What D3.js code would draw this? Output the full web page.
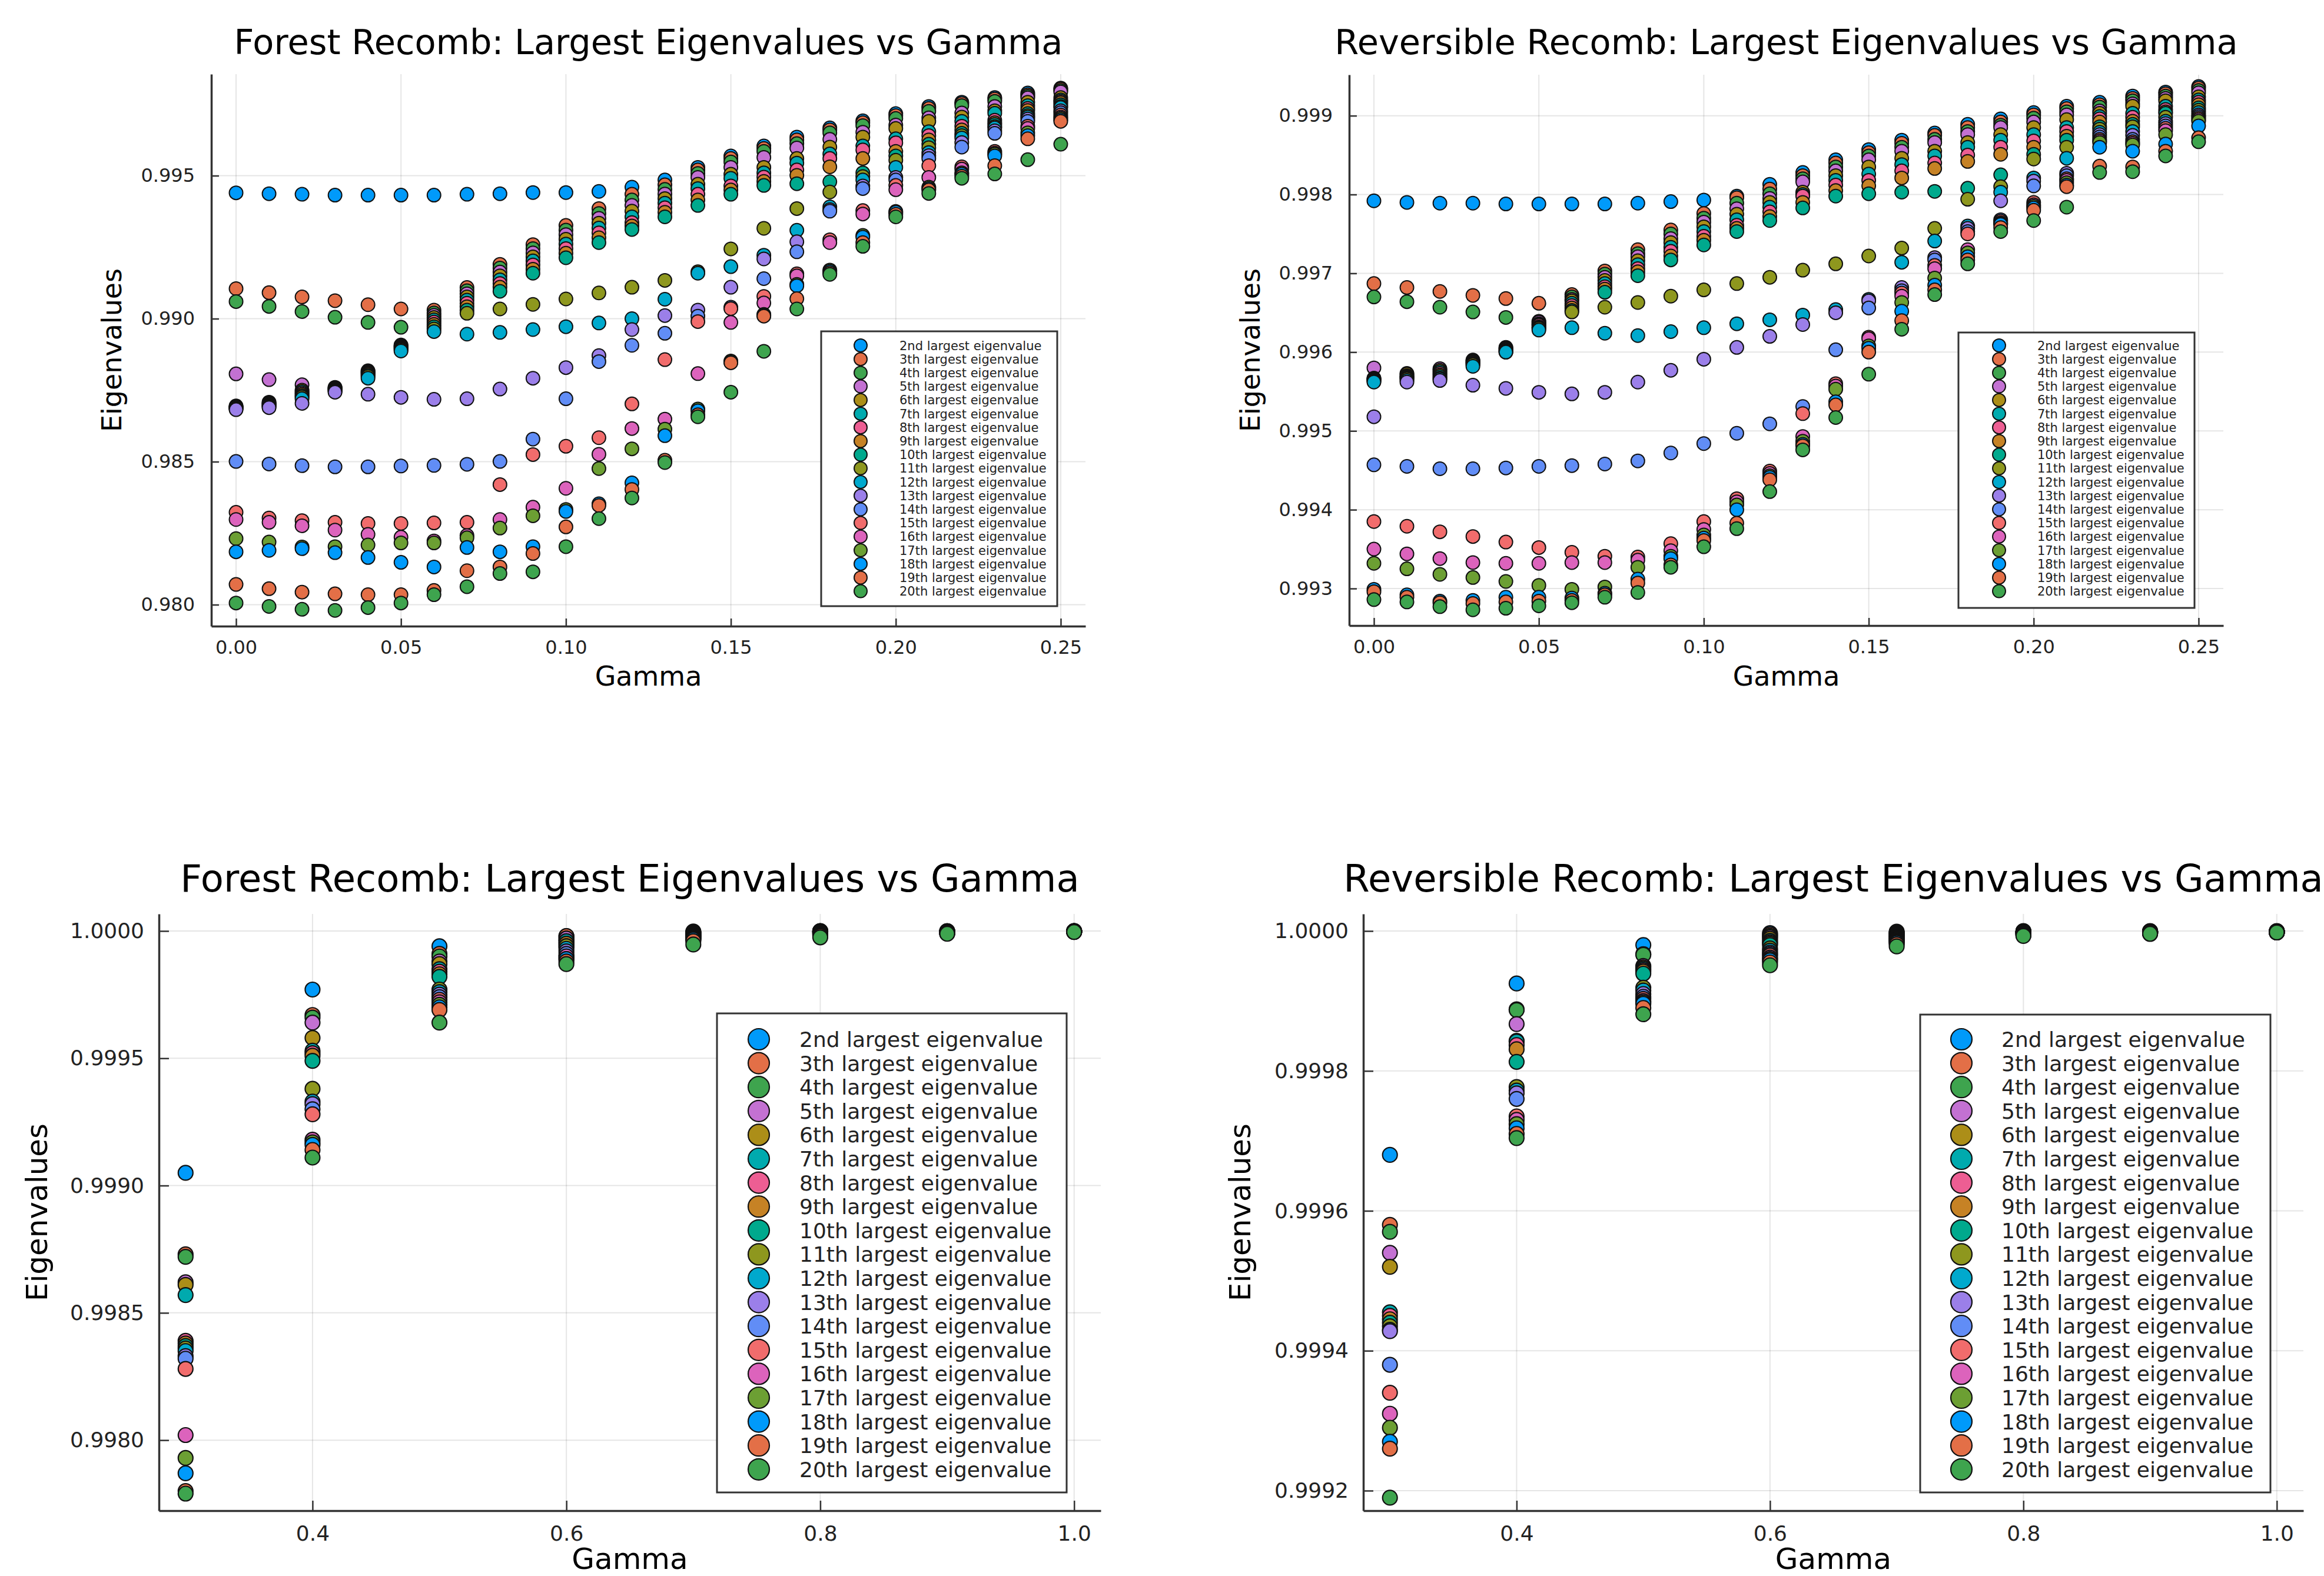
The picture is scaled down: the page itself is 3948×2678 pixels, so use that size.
<!DOCTYPE html>
<html>
<head>
<meta charset="utf-8">
<script src="https://cdn.jsdelivr.net/npm/d3@7"></script>
<style>
  body { margin: 0; background: #fff; }
  svg { display: block; }
  text { font-family: "DejaVu Sans", sans-serif; }
</style>
</head>
<body>
<svg id="chart" width="3948" height="2678"></svg>
<script>
// ---- data ----
var gammaTop = [0.00, 0.01, 0.02, 0.03, 0.04, 0.05, 0.06, 0.07, 0.08, 0.09, 0.10, 0.11, 0.12,
                0.13, 0.14, 0.15, 0.16, 0.17, 0.18, 0.19, 0.20, 0.21, 0.22, 0.23, 0.24, 0.25];
var gammaBottom = [0.3, 0.4, 0.5, 0.6, 0.7, 0.8, 0.9, 1.0];

var seriesNames = [
  "2nd largest eigenvalue", "3th largest eigenvalue", "4th largest eigenvalue",
  "5th largest eigenvalue", "6th largest eigenvalue", "7th largest eigenvalue",
  "8th largest eigenvalue", "9th largest eigenvalue", "10th largest eigenvalue",
  "11th largest eigenvalue", "12th largest eigenvalue", "13th largest eigenvalue",
  "14th largest eigenvalue", "15th largest eigenvalue", "16th largest eigenvalue",
  "17th largest eigenvalue", "18th largest eigenvalue", "19th largest eigenvalue",
  "20th largest eigenvalue"
];

var palette = ["#009AFA", "#E36F47", "#3EA44E", "#C371D2", "#AC8E18", "#00AAAE", "#ED5E93", "#C68225",
               "#00A98D", "#8E971E", "#00A9CD", "#9B7FE9", "#618DF6", "#F16C6C", "#DC63BC", "#6C9F33"];

// one row per gamma, columns are the 2nd ... 20th eigenvalue
var forestTop = [
  [0.99440,0.99105,0.99060,0.98807,0.98695,0.98693,0.98691,0.98690,0.98688,0.98687,0.98685,0.98682,0.98501,0.98323,0.98298,0.98231,0.98185,0.98071,0.98006],
  [0.99437,0.99091,0.99043,0.98787,0.98708,0.98705,0.98702,0.98700,0.98697,0.98695,0.98692,0.98689,0.98492,0.98303,0.98288,0.98219,0.98190,0.98056,0.97994],
  [0.99435,0.99076,0.99025,0.98769,0.98750,0.98745,0.98740,0.98735,0.98730,0.98726,0.98720,0.98704,0.98486,0.98294,0.98276,0.98202,0.98196,0.98044,0.97984],
  [0.99432,0.99063,0.99005,0.98760,0.98758,0.98756,0.98754,0.98752,0.98750,0.98748,0.98746,0.98743,0.98482,0.98288,0.98261,0.98203,0.98182,0.98038,0.97980],
  [0.99432,0.99049,0.98987,0.98818,0.98815,0.98812,0.98809,0.98806,0.98802,0.98798,0.98792,0.98736,0.98482,0.98284,0.98246,0.98209,0.98165,0.98035,0.97990],
  [0.99432,0.99034,0.98970,0.98908,0.98905,0.98902,0.98900,0.98897,0.98894,0.98891,0.98887,0.98725,0.98485,0.98284,0.98236,0.98216,0.98148,0.98035,0.98006],
  [0.99432,0.99030,0.99020,0.99012,0.99004,0.98996,0.98988,0.98980,0.98972,0.98964,0.98955,0.98718,0.98487,0.98286,0.98223,0.98216,0.98132,0.98050,0.98035],
  [0.99435,0.99109,0.99098,0.99087,0.99076,0.99065,0.99054,0.99042,0.99030,0.99019,0.98946,0.98720,0.98491,0.98288,0.98242,0.98234,0.98200,0.98119,0.98063],
  [0.99437,0.99190,0.99177,0.99163,0.99150,0.99136,0.99123,0.99110,0.99096,0.99034,0.98952,0.98754,0.98501,0.98420,0.98298,0.98268,0.98185,0.98132,0.98109],
  [0.99441,0.99259,0.99245,0.99230,0.99216,0.99202,0.99188,0.99173,0.99159,0.99050,0.98962,0.98792,0.98579,0.98525,0.98341,0.98311,0.98203,0.98179,0.98115],
  [0.99441,0.99326,0.99310,0.99294,0.99278,0.99261,0.99245,0.99229,0.99213,0.99069,0.98972,0.98829,0.98720,0.98554,0.98407,0.98333,0.98326,0.98272,0.98203],
  [0.99445,0.99385,0.99368,0.99351,0.99334,0.99317,0.99300,0.99283,0.99266,0.99090,0.98985,0.98871,0.98850,0.98584,0.98526,0.98476,0.98353,0.98347,0.98301],
  [0.99460,0.99435,0.99415,0.99396,0.99376,0.99356,0.99336,0.99324,0.99312,0.99110,0.99000,0.98962,0.98907,0.98702,0.98616,0.98545,0.98426,0.98403,0.98373],
  [0.99485,0.99468,0.99452,0.99436,0.99420,0.99404,0.99388,0.99372,0.99356,0.99134,0.99068,0.99011,0.98949,0.98857,0.98649,0.98614,0.98591,0.98505,0.98497],
  [0.99529,0.99520,0.99508,0.99494,0.99470,0.99455,0.99435,0.99415,0.99396,0.99164,0.99159,0.99030,0.99009,0.98990,0.98808,0.98684,0.98678,0.98664,0.98657],
  [0.99569,0.99560,0.99548,0.99529,0.99505,0.99491,0.99464,0.99450,0.99435,0.99244,0.99182,0.99110,0.99040,0.99035,0.98987,0.98852,0.98848,0.98846,0.98743],
  [0.99604,0.99595,0.99585,0.99564,0.99529,0.99510,0.99495,0.99480,0.99466,0.99316,0.99222,0.99209,0.99140,0.99078,0.99055,0.99015,0.99012,0.99009,0.98886],
  [0.99635,0.99625,0.99612,0.99597,0.99560,0.99544,0.99520,0.99501,0.99472,0.99385,0.99309,0.99269,0.99234,0.99157,0.99150,0.99120,0.99115,0.99070,0.99034],
  [0.99667,0.99660,0.99650,0.99627,0.99600,0.99576,0.99560,0.99531,0.99479,0.99443,0.99391,0.99381,0.99376,0.99276,0.99266,0.99170,0.99165,0.99160,0.99155],
  [0.99692,0.99685,0.99675,0.99652,0.99635,0.99604,0.99590,0.99560,0.99510,0.99497,0.99485,0.99464,0.99455,0.99378,0.99366,0.99291,0.99285,0.99266,0.99253],
  [0.99717,0.99710,0.99700,0.99677,0.99665,0.99629,0.99615,0.99585,0.99569,0.99554,0.99529,0.99494,0.99485,0.99466,0.99451,0.99375,0.99372,0.99365,0.99356],
  [0.99742,0.99735,0.99725,0.99702,0.99690,0.99654,0.99640,0.99625,0.99610,0.99598,0.99581,0.99570,0.99560,0.99535,0.99494,0.99460,0.99455,0.99450,0.99438],
  [0.99757,0.99752,0.99745,0.99719,0.99705,0.99690,0.99673,0.99660,0.99648,0.99640,0.99632,0.99616,0.99600,0.99531,0.99523,0.99510,0.99505,0.99498,0.99491],
  [0.99773,0.99768,0.99760,0.99742,0.99727,0.99718,0.99694,0.99685,0.99679,0.99672,0.99667,0.99657,0.99648,0.99585,0.99579,0.99575,0.99569,0.99535,0.99506],
  [0.99789,0.99783,0.99778,0.99772,0.99757,0.99745,0.99735,0.99728,0.99717,0.99710,0.99705,0.99698,0.99690,0.99673,0.99665,0.99650,0.99640,0.99629,0.99556],
  [0.99806,0.99803,0.99798,0.99793,0.99773,0.99765,0.99760,0.99755,0.99748,0.99742,0.99738,0.99727,0.99720,0.99712,0.99705,0.99700,0.99695,0.99690,0.99610]
];

var reversibleTop = [
  [0.99792,0.99687,0.99670,0.99580,0.99567,0.99566,0.99566,0.99565,0.99564,0.99563,0.99562,0.99518,0.99457,0.99385,0.99350,0.99332,0.99299,0.99296,0.99286],
  [0.99790,0.99682,0.99664,0.99573,0.99572,0.99570,0.99569,0.99568,0.99567,0.99566,0.99564,0.99562,0.99455,0.99379,0.99344,0.99325,0.99292,0.99289,0.99283],
  [0.99789,0.99677,0.99657,0.99579,0.99577,0.99575,0.99573,0.99571,0.99569,0.99567,0.99566,0.99564,0.99452,0.99372,0.99338,0.99318,0.99284,0.99282,0.99277],
  [0.99789,0.99672,0.99651,0.99590,0.99589,0.99588,0.99587,0.99586,0.99585,0.99584,0.99582,0.99558,0.99452,0.99366,0.99333,0.99314,0.99285,0.99281,0.99273],
  [0.99788,0.99668,0.99644,0.99606,0.99605,0.99604,0.99603,0.99602,0.99601,0.99600,0.99600,0.99554,0.99453,0.99359,0.99332,0.99309,0.99289,0.99283,0.99275],
  [0.99788,0.99662,0.99639,0.99638,0.99636,0.99635,0.99634,0.99632,0.99631,0.99630,0.99628,0.99549,0.99455,0.99352,0.99332,0.99304,0.99289,0.99284,0.99278],
  [0.99788,0.99673,0.99670,0.99667,0.99665,0.99662,0.99659,0.99656,0.99653,0.99651,0.99631,0.99547,0.99456,0.99346,0.99333,0.99299,0.99288,0.99285,0.99282],
  [0.99788,0.99703,0.99699,0.99695,0.99691,0.99687,0.99683,0.99680,0.99676,0.99657,0.99624,0.99549,0.99458,0.99341,0.99333,0.99302,0.99294,0.99292,0.99289],
  [0.99789,0.99730,0.99725,0.99721,0.99716,0.99711,0.99706,0.99702,0.99697,0.99663,0.99621,0.99562,0.99462,0.99340,0.99336,0.99327,0.99312,0.99307,0.99295],
  [0.99791,0.99755,0.99750,0.99744,0.99739,0.99733,0.99728,0.99722,0.99717,0.99671,0.99626,0.99577,0.99472,0.99357,0.99348,0.99341,0.99338,0.99330,0.99327],
  [0.99793,0.99776,0.99770,0.99765,0.99759,0.99753,0.99747,0.99742,0.99736,0.99679,0.99631,0.99591,0.99484,0.99385,0.99375,0.99368,0.99364,0.99361,0.99353],
  [0.99798,0.99796,0.99789,0.99782,0.99775,0.99768,0.99761,0.99757,0.99753,0.99687,0.99636,0.99606,0.99497,0.99414,0.99410,0.99406,0.99400,0.99383,0.99376],
  [0.99813,0.99807,0.99801,0.99795,0.99790,0.99784,0.99778,0.99772,0.99767,0.99695,0.99641,0.99620,0.99509,0.99449,0.99446,0.99443,0.99441,0.99438,0.99423],
  [0.99828,0.99824,0.99820,0.99816,0.99803,0.99800,0.99798,0.99790,0.99783,0.99704,0.99647,0.99635,0.99531,0.99522,0.99493,0.99487,0.99483,0.99481,0.99476],
  [0.99844,0.99840,0.99835,0.99830,0.99824,0.99818,0.99812,0.99805,0.99798,0.99712,0.99654,0.99650,0.99603,0.99560,0.99557,0.99553,0.99537,0.99533,0.99517],
  [0.99857,0.99853,0.99849,0.99844,0.99835,0.99826,0.99818,0.99811,0.99801,0.99722,0.99667,0.99665,0.99656,0.99619,0.99617,0.99608,0.99605,0.99600,0.99572],
  [0.99869,0.99865,0.99860,0.99855,0.99846,0.99838,0.99830,0.99821,0.99803,0.99732,0.99714,0.99682,0.99678,0.99675,0.99671,0.99663,0.99652,0.99640,0.99629],
  [0.99878,0.99875,0.99870,0.99866,0.99855,0.99849,0.99840,0.99833,0.99804,0.99757,0.99741,0.99720,0.99717,0.99710,0.99706,0.99694,0.99685,0.99679,0.99673],
  [0.99889,0.99885,0.99880,0.99876,0.99866,0.99860,0.99850,0.99842,0.99808,0.99794,0.99760,0.99757,0.99753,0.99750,0.99730,0.99726,0.99721,0.99717,0.99712],
  [0.99896,0.99892,0.99888,0.99885,0.99876,0.99869,0.99860,0.99851,0.99825,0.99810,0.99803,0.99792,0.99768,0.99766,0.99764,0.99763,0.99762,0.99758,0.99753],
  [0.99904,0.99901,0.99897,0.99892,0.99885,0.99876,0.99868,0.99860,0.99851,0.99845,0.99821,0.99817,0.99811,0.99790,0.99787,0.99785,0.99783,0.99780,0.99767],
  [0.99912,0.99909,0.99905,0.99901,0.99895,0.99885,0.99880,0.99874,0.99869,0.99860,0.99846,0.99827,0.99824,0.99820,0.99818,0.99815,0.99812,0.99810,0.99784],
  [0.99917,0.99914,0.99911,0.99906,0.99903,0.99899,0.99896,0.99892,0.99886,0.99883,0.99879,0.99876,0.99873,0.99870,0.99868,0.99866,0.99860,0.99836,0.99828],
  [0.99925,0.99922,0.99919,0.99915,0.99912,0.99903,0.99898,0.99893,0.99889,0.99886,0.99880,0.99875,0.99870,0.99867,0.99865,0.99863,0.99855,0.99835,0.99829],
  [0.99930,0.99928,0.99925,0.99922,0.99919,0.99912,0.99908,0.99905,0.99903,0.99898,0.99893,0.99890,0.99887,0.99884,0.99881,0.99876,0.99864,0.99855,0.99849],
  [0.99937,0.99935,0.99932,0.99929,0.99924,0.99920,0.99917,0.99914,0.99910,0.99907,0.99904,0.99901,0.99899,0.99897,0.99895,0.99893,0.99887,0.99872,0.99867]
];

var forestBottom = [
  [0.99905,0.99873,0.99872,0.99862,0.99861,0.99857,0.99839,0.99838,0.99837,0.99836,0.99835,0.99833,0.99832,0.99828,0.99802,0.99793,0.99787,0.99780,0.99779],
  [0.99977,0.99967,0.99966,0.99964,0.99958,0.99953,0.99952,0.99951,0.99949,0.99938,0.99933,0.99932,0.99930,0.99928,0.99918,0.99917,0.99916,0.99914,0.99911],
  [0.99994,0.99991,0.99990,0.99988,0.99987,0.99985,0.99984,0.99983,0.99982,0.99977,0.99976,0.99975,0.99974,0.99973,0.99972,0.99971,0.99970,0.99969,0.99964],
  [0.99998,0.99998,0.99997,0.99997,0.99996,0.99996,0.99995,0.99995,0.99994,0.99994,0.99993,0.99992,0.99991,0.99990,0.99990,0.99989,0.99989,0.99988,0.99987],
  [0.999998,0.999996,0.999994,0.999992,0.999990,0.999988,0.999986,0.999984,0.999982,0.999980,0.999978,0.999976,0.999974,0.999972,0.999970,0.999968,0.999966,0.999960,0.999947],
  [1.000000,0.999999,0.999999,0.999998,0.999998,0.999997,0.999997,0.999996,0.999995,0.999994,0.999993,0.999992,0.999991,0.999990,0.999988,0.999986,0.999983,0.999980,0.999975],
  [0.999999,0.999999,0.999999,0.999998,0.999998,0.999998,0.999997,0.999997,0.999997,0.999996,0.999996,0.999995,0.999995,0.999994,0.999993,0.999992,0.999991,0.999990,0.999989],
  [0.9999995,0.9999995,0.999999,0.999999,0.999999,0.999999,0.999999,0.999998,0.999998,0.999998,0.999998,0.999998,0.999998,0.999997,0.999997,0.999997,0.999997,0.999996,0.999996]
];

var reversibleBottom = [
  [0.99968,0.99958,0.99957,0.99954,0.99952,0.999455,0.99945,0.999445,0.99944,0.999435,0.99943,0.999428,0.99938,0.99934,0.99931,0.99929,0.99927,0.99926,0.99919],
  [0.999925,0.999888,0.999887,0.999867,0.999843,0.999842,0.999837,0.999831,0.999813,0.999777,0.999772,0.999768,0.999760,0.999735,0.999730,0.999724,0.999718,0.999710,0.999704],
  [0.999980,0.999967,0.999966,0.999950,0.999948,0.999946,0.999944,0.999942,0.999939,0.999919,0.999915,0.999910,0.999906,0.999903,0.999900,0.999898,0.999896,0.999890,0.999881],
  [0.999997,0.999995,0.999993,0.999991,0.999989,0.999986,0.999984,0.999982,0.999980,0.999975,0.999972,0.999969,0.999967,0.999965,0.999962,0.999960,0.999958,0.999955,0.999951],
  [0.999999,0.999998,0.999997,0.999996,0.999995,0.999994,0.999993,0.999992,0.999991,0.999990,0.999989,0.999988,0.999987,0.999986,0.999985,0.999984,0.999983,0.999981,0.999978],
  [1.000000,0.9999995,0.999999,0.999999,0.999999,0.999998,0.999998,0.999998,0.999998,0.999997,0.999997,0.999997,0.999996,0.999996,0.999996,0.999995,0.999995,0.999994,0.999993],
  [1.000000,0.9999995,0.9999995,0.999999,0.999999,0.999999,0.999999,0.999999,0.999998,0.999998,0.999998,0.999998,0.999998,0.999997,0.999997,0.999997,0.999997,0.999996,0.999996],
  [1.000000,0.9999995,0.9999995,0.9999995,0.999999,0.999999,0.999999,0.999999,0.999999,0.999999,0.999999,0.999999,0.999998,0.999998,0.999998,0.999998,0.999998,0.999998,0.999998]
];

var ticksTopX = [0.00, 0.05, 0.10, 0.15, 0.20, 0.25];
var ticksBottomX = [0.4, 0.6, 0.8, 1.0];
var ticksForestTopY = [0.980, 0.985, 0.990, 0.995];
var ticksReversibleTopY = [0.993, 0.994, 0.995, 0.996, 0.997, 0.998, 0.999];
var ticksForestBottomY = [0.9980, 0.9985, 0.9990, 0.9995, 1.0000];
var ticksReversibleBottomY = [0.9992, 0.9994, 0.9996, 0.9998, 1.0000];

var svg = d3.select('#chart');
svg.append('rect').attr('width', 3948).attr('height', 2678).attr('fill', '#fff');

// Style shared by the two upper and the two lower plots.
var topStyle = {
  titleSize: 59, labelSize: 46, tickSize: 32, tickLen: 13, xPad: 24, yPad: 28,
  r: 11.5, sw: 2, legendR: 11, legendFont: 21, legendRow0: 587, legendStep: 23.2,
  xFormat: '.2f', yFormat: '.3f', gamma: gammaTop, xTicks: ticksTopX,
  xDomain: [-0.0075, 0.2575], titleY: 71, xLabelY: 1148
};
var bottomStyle = {
  titleSize: 64, labelSize: 50, tickSize: 36, tickLen: 17, xPad: 25, yPad: 25,
  r: 12.5, sw: 2.2, legendR: 18, legendFont: 36, legendRow0: 1766, legendStep: 40.6,
  xFormat: '.1f', yFormat: '.4f', gamma: gammaBottom, xTicks: ticksBottomX,
  // label pulled up a little so it is not clipped by the page edge
  xDomain: [0.279, 1.021], titleY: 1492, xLabelY: 2648
};

var panels = [
  Object.assign({}, topStyle, {
    title: 'Forest Recomb: Largest Eigenvalues vs Gamma', values: forestTop,
    xRange: [359, 1844], yDomain: [0.97925, 0.99855], yRange: [1064, 126],
    yTicks: ticksForestTopY, yLabelX: 189,
    legend: {x: 1395, y: 563, w: 401, h: 467, mx: 1462, tx: 1528}
  }),
  Object.assign({}, topStyle, {
    title: 'Reversible Recomb: Largest Eigenvalues vs Gamma', values: reversibleTop,
    xRange: [2292, 3777], yDomain: [0.99253, 0.99952], yRange: [1063, 127],
    yTicks: ticksReversibleTopY, yLabelX: 2123,
    legend: {x: 3327, y: 565, w: 401, h: 468, mx: 3396, tx: 3461}
  }),
  Object.assign({}, bottomStyle, {
    title: 'Forest Recomb: Largest Eigenvalues vs Gamma', values: forestBottom,
    xRange: [270, 1870], yDomain: [0.997723, 1.000067], yRange: [2567, 1553],
    yTicks: ticksForestBottomY, yLabelX: 62,
    legend: {x: 1218, y: 1722, w: 594, h: 814, mx: 1289, tx: 1358}
  }),
  Object.assign({}, bottomStyle, {
    title: 'Reversible Recomb: Largest Eigenvalues vs Gamma', values: reversibleBottom,
    xRange: [2316, 3913], yDomain: [0.9991714, 1.0000244], yRange: [2567, 1553],
    yTicks: ticksReversibleBottomY, yLabelX: 2106,
    legend: {x: 3262, y: 1724, w: 595, h: 812, mx: 3332, tx: 3400}
  })
];

var drawPanel = function(p) {
  var g = svg.append('g');
  var x = d3.scaleLinear().domain(p.xDomain).range(p.xRange);
  var y = d3.scaleLinear().domain(p.yDomain).range(p.yRange);
  var left = p.xRange[0], right = p.xRange[1];
  var bottom = p.yRange[0], top = p.yRange[1];

  // grid
  g.append('g').selectAll('line').data(p.xTicks).enter().append('line')
    .attr('x1', function(d) { return x(d); }).attr('x2', function(d) { return x(d); })
    .attr('y1', top).attr('y2', bottom)
    .attr('stroke', '#000').attr('stroke-opacity', 0.1).attr('stroke-width', 2);
  g.append('g').selectAll('line').data(p.yTicks).enter().append('line')
    .attr('y1', function(d) { return y(d); }).attr('y2', function(d) { return y(d); })
    .attr('x1', left).attr('x2', right)
    .attr('stroke', '#000').attr('stroke-opacity', 0.1).attr('stroke-width', 2);

  // axes, ticks point into the plot
  var xAxis = g.append('g').attr('transform', 'translate(0,' + bottom + ')')
    .call(d3.axisBottom(x).tickValues(p.xTicks).tickFormat(d3.format(p.xFormat))
      .tickSizeInner(-p.tickLen).tickSizeOuter(0).tickPadding(p.xPad));
  var yAxis = g.append('g').attr('transform', 'translate(' + left + ',0)')
    .call(d3.axisLeft(y).tickValues(p.yTicks).tickFormat(d3.format(p.yFormat))
      .tickSizeInner(-p.tickLen).tickSizeOuter(0).tickPadding(p.yPad));
  [xAxis, yAxis].forEach(function(a) {
    a.attr('font-family', '"DejaVu Sans", sans-serif').attr('font-size', p.tickSize)
      .attr('color', '#222');
    a.select('.domain').attr('stroke', '#333').attr('stroke-width', 3.5);
    a.selectAll('.tick line').attr('stroke', '#333').attr('stroke-width', 2.5);
  });

  // points, one series after the other so later ones sit on top
  seriesNames.forEach(function(name, k) {
    g.append('g').selectAll('circle').data(p.gamma).enter().append('circle')
      .attr('cx', function(d) { return x(d); })
      .attr('cy', function(d, i) { return y(p.values[i][k]); })
      .attr('r', p.r)
      .attr('fill', palette[k % palette.length])
      .attr('stroke', '#111').attr('stroke-width', p.sw);
  });

  // legend
  var L = p.legend;
  var leg = g.append('g');
  leg.append('rect').attr('x', L.x).attr('y', L.y).attr('width', L.w).attr('height', L.h)
    .attr('fill', '#fff').attr('stroke', '#333').attr('stroke-width', 3);
  var rows = leg.selectAll('g.row').data(seriesNames).enter().append('g')
    .attr('transform', function(d, i) { return 'translate(0,' + (p.legendRow0 + i * p.legendStep) + ')'; });
  rows.append('circle').attr('cx', L.mx).attr('cy', 0).attr('r', p.legendR)
    .attr('fill', function(d, i) { return palette[i % palette.length]; })
    .attr('stroke', '#111').attr('stroke-width', p.sw);
  rows.append('text').attr('x', L.tx).attr('y', 0).attr('dy', '0.36em')
    .attr('font-size', p.legendFont).attr('fill', '#222')
    .text(function(d) { return d; });

  // title and axis labels
  var cx = (left + right) / 2, cy = (top + bottom) / 2;
  g.append('text').attr('x', cx).attr('y', p.titleY).attr('dy', '0.36em')
    .attr('text-anchor', 'middle').attr('font-size', p.titleSize).attr('fill', '#000')
    .text(p.title);
  g.append('text').attr('x', cx).attr('y', p.xLabelY).attr('dy', '0.36em')
    .attr('text-anchor', 'middle').attr('font-size', p.labelSize).attr('fill', '#000')
    .text('Gamma');
  g.append('text').attr('transform', 'translate(' + p.yLabelX + ',' + cy + ') rotate(-90)')
    .attr('dy', '0.36em').attr('text-anchor', 'middle')
    .attr('font-size', p.labelSize).attr('fill', '#000')
    .text('Eigenvalues');
};

panels.forEach(drawPanel);
</script>
</body>
</html>
